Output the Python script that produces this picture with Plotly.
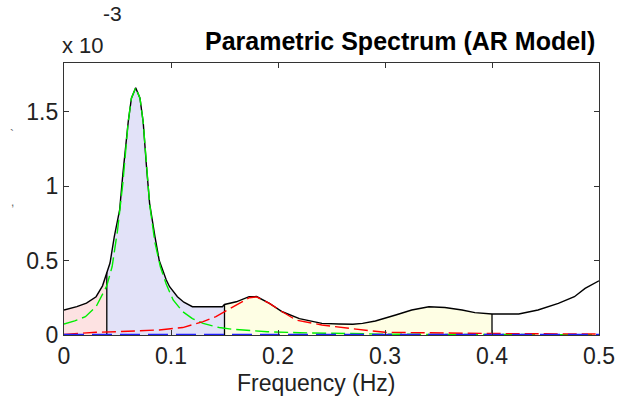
import plotly.graph_objects as go

# Total AR spectrum (units of 1e-3)
f_total = [0, 0.012, 0.021, 0.030, 0.036, 0.04, 0.043, 0.047, 0.052, 0.055, 0.058, 0.060, 0.063,
           0.067, 0.071, 0.074, 0.077, 0.080, 0.085, 0.089, 0.0956, 0.0987, 0.106, 0.112, 0.120,
           0.135, 0.148, 0.15, 0.161, 0.173, 0.18, 0.192, 0.204, 0.220, 0.241, 0.257, 0.27, 0.279,
           0.291, 0.310, 0.325, 0.341, 0.356, 0.372, 0.384, 0.40, 0.425, 0.443, 0.462, 0.477,
           0.487, 0.5]
p_total = [0.168, 0.19, 0.214, 0.257, 0.33, 0.42, 0.483, 0.66, 0.84, 1.08, 1.30, 1.43, 1.59,
           1.66, 1.59, 1.43, 1.14, 0.884, 0.66, 0.50, 0.369, 0.324, 0.257, 0.22, 0.19,
           0.188, 0.19, 0.205, 0.223, 0.257, 0.258, 0.212, 0.156, 0.11, 0.078, 0.074, 0.072, 0.078,
           0.094, 0.134, 0.168, 0.19, 0.185, 0.168, 0.15, 0.141, 0.141, 0.168, 0.212, 0.257,
           0.313, 0.364]

# LF component (green)
f_lf = [0, 0.01, 0.02, 0.03, 0.04, 0.045, 0.05, 0.055, 0.06, 0.063, 0.067, 0.071, 0.074, 0.077,
        0.08, 0.085, 0.09, 0.0956, 0.102, 0.111, 0.12, 0.13, 0.145, 0.158, 0.175, 0.19, 0.22,
        0.25, 0.3, 0.35, 0.4, 0.45, 0.5]
p_lf = [0.074, 0.095, 0.123, 0.19, 0.33, 0.46, 0.70, 1.02, 1.43, 1.59, 1.66, 1.59, 1.43, 1.14,
        0.88, 0.62, 0.46, 0.34, 0.235, 0.156, 0.11, 0.078, 0.05, 0.038, 0.028, 0.022, 0.015,
        0.01, 0.006, 0.004, 0.003, 0.002, 0.002]

# HF component (red)
f_hf = [0, 0.03, 0.06, 0.089, 0.111, 0.13, 0.142, 0.161, 0.173, 0.18, 0.192, 0.204, 0.217,
        0.241, 0.26, 0.285, 0.30, 0.34, 0.4, 0.45, 0.5]
p_hf = [0.004, 0.018, 0.025, 0.034, 0.05, 0.09, 0.123, 0.2, 0.25, 0.256, 0.212, 0.156, 0.10,
        0.067, 0.049, 0.029, 0.018, 0.013, 0.01, 0.008, 0.007]

# VLF component (blue)
f_vlf = [0, 0.1, 0.2, 0.3, 0.4, 0.5]
p_vlf = [0, 0, 0, 0, 0, 0]

# Band limits (Hz) and fill colours
band_edges = [0, 0.04, 0.15, 0.4]
band_colors = ["#fde2e2", "#e2e2f8", "#fefee4"]

x_ticks = [0, 0.1, 0.2, 0.3, 0.4, 0.5]
x_ticktext = ["0", "0.1", "0.2", "0.3", "0.4", "0.5"]
y_ticks = [0, 0.5, 1, 1.5]
y_ticktext = ["0", "0.5", "1", "1.5"]

scale = 1e-3
FONT = "Liberation Sans, Arial, sans-serif"

fig = go.Figure()

# Band fills
for i in range(3):
    lo, hi = band_edges[i], band_edges[i + 1]
    xs = [f for f in f_total if lo <= f <= hi]
    ys = [p * scale for f, p in zip(f_total, p_total) if lo <= f <= hi]
    fig.add_trace(go.Scatter(x=xs, y=ys, mode="lines", fill="tozeroy",
                             fillcolor=band_colors[i], line=dict(width=0),
                             hoverinfo="skip", showlegend=False))

# Total spectrum
fig.add_trace(go.Scatter(x=f_total, y=[p * scale for p in p_total], mode="lines",
                         line=dict(color="black", width=1.4), showlegend=False))

# Band boundary lines
for edge in band_edges[1:]:
    idx = f_total.index(edge)
    fig.add_trace(go.Scatter(x=[edge, edge], y=[0, p_total[idx] * scale], mode="lines",
                             line=dict(color="black", width=1.3), showlegend=False))

# Components
fig.add_trace(go.Scatter(x=f_lf, y=[p * scale for p in p_lf], mode="lines",
                         line=dict(color="#00ee00", width=1.4, dash="14px,5px"), showlegend=False))
fig.add_trace(go.Scatter(x=f_hf, y=[p * scale for p in p_hf], mode="lines",
                         line=dict(color="#ff0000", width=1.4, dash="14px,5px"), showlegend=False))
fig.add_trace(go.Scatter(x=f_vlf, y=[p * scale for p in p_vlf], mode="lines",
                         line=dict(color="#2020ff", width=2.5, dash="20px,8px"), showlegend=False))

fig.update_layout(
    width=627, height=406,
    margin=dict(l=64, r=26, t=63, b=71),
    paper_bgcolor="white", plot_bgcolor="white",
    font=dict(family=FONT, size=22, color="#222222"),
    xaxis=dict(range=[0, 0.5], tickvals=x_ticks, ticktext=x_ticktext,
               showgrid=False, zeroline=False, showline=True, linecolor="#333333",
               linewidth=1.3, mirror="ticks", ticks="inside", ticklen=5,
               tickcolor="#333333", tickfont=dict(size=23, family=FONT)),
    yaxis=dict(range=[0, 1.826e-3], tickvals=[t * scale for t in y_ticks], ticktext=y_ticktext,
               showgrid=False, zeroline=False, showline=True, linecolor="#333333",
               linewidth=1.3, mirror="ticks", ticks="inside", ticklen=5,
               tickcolor="#333333", tickfont=dict(size=23, family=FONT)),
)

# Text placed at pixel positions (converted to paper coords)
pw, ph = 627 - 64 - 26, 406 - 63 - 71
texts = [
    ("<b>Parametric Spectrum (AR Model)</b>", 401, 41, 25, "black"),
    ("Frequency (Hz)", 317, 383, 23, "#222222"),
    ("x 10", 83, 45, 22, "#222222"),
    ("-3", 113, 14, 21, "#222222"),
    ("`", 12, 135, 12, "#666666"),
    (",", 12, 202, 12, "#666666"),
]
anns = []
for t, px, py, sz, col in texts:
    anns.append(dict(text=t, xref="paper", yref="paper",
                     x=(px - 64) / pw, y=(406 - 71 - py) / ph,
                     xanchor="center", yanchor="middle", showarrow=False,
                     font=dict(size=sz, family=FONT, color=col)))
fig.update_layout(annotations=anns)

fig.write_html("out.html")
